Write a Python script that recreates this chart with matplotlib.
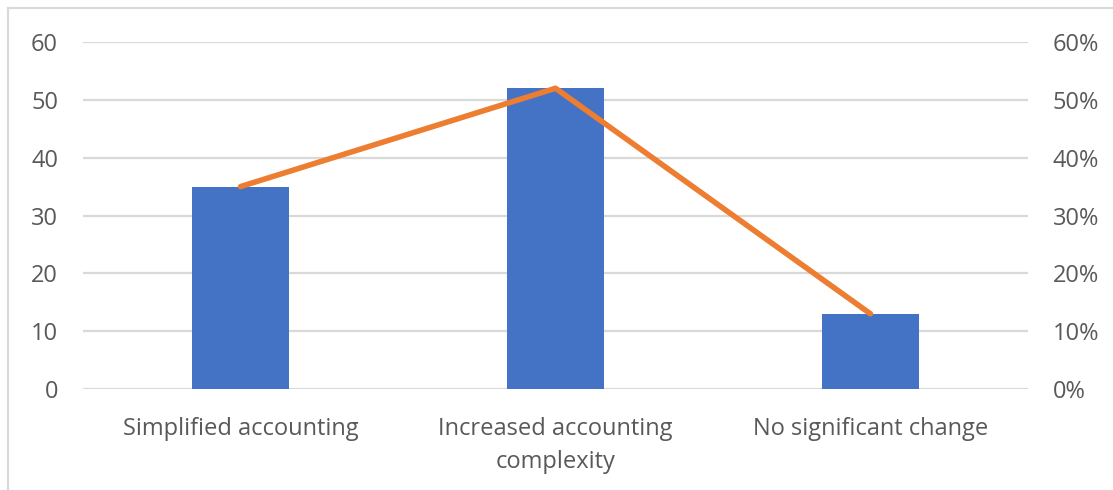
import matplotlib
matplotlib.use("Agg")
import matplotlib.pyplot as plt
from matplotlib.ticker import PercentFormatter

categories = ["Simplified accounting", "Increased accounting\ncomplexity", "No significant change"]
counts = [35, 52, 13]
shares = [0.35, 0.52, 0.13]
left_ticks = [0, 10, 20, 30, 40, 50, 60]
right_ticks = [0, 0.1, 0.2, 0.3, 0.4, 0.5, 0.6]

plt.rcParams["font.family"] = ["Open Sans", "DejaVu Sans"]
text_color = "#595959"
grid_color = "#D9D9D9"
fs = 17

fig = plt.figure(figsize=(11.13, 4.9), dpi=100)
ax = fig.add_axes([0.0746, 0.2061, 0.849, 0.7082])

x = list(range(len(categories)))
ax.bar(x, counts, width=0.31, color="#4472C4", zorder=2)
ax.set_xlim(-0.5, len(categories) - 0.5)
ax.set_ylim(0, 60)
ax.set_yticks(left_ticks)
ax.set_xticks(x)
ax.set_xticklabels(categories, fontsize=fs, color=text_color, linespacing=1.5)
ax.tick_params(axis="y", labelsize=fs, labelcolor=text_color, length=0, pad=18)
ax.tick_params(axis="x", length=0, pad=20)
ax.grid(axis="y", color=grid_color, linewidth=1.6, zorder=0)
for s in ax.spines.values():
    s.set_visible(False)

ax2 = ax.twinx()
ax2.plot(x, shares, color="#ED7D31", linewidth=4, solid_capstyle="round", zorder=3)
ax2.set_ylim(0, 0.6)
ax2.set_yticks(right_ticks)
ax2.yaxis.set_major_formatter(PercentFormatter(1.0, decimals=0))
ax2.tick_params(axis="y", labelsize=fs, labelcolor=text_color, length=0, pad=18)
for s in ax2.spines.values():
    s.set_visible(False)

# Outer frame (top and left edges)
fig.add_artist(plt.Line2D([8 / 1113, 1], [1 - 8 / 490, 1 - 8 / 490],
                          transform=fig.transFigure, color="#D9D9D9", linewidth=1.5))
fig.add_artist(plt.Line2D([8 / 1113, 8 / 1113], [0, 1 - 8 / 490],
                          transform=fig.transFigure, color="#D9D9D9", linewidth=1.5))

fig.savefig("out.png", dpi=100, facecolor="white")
